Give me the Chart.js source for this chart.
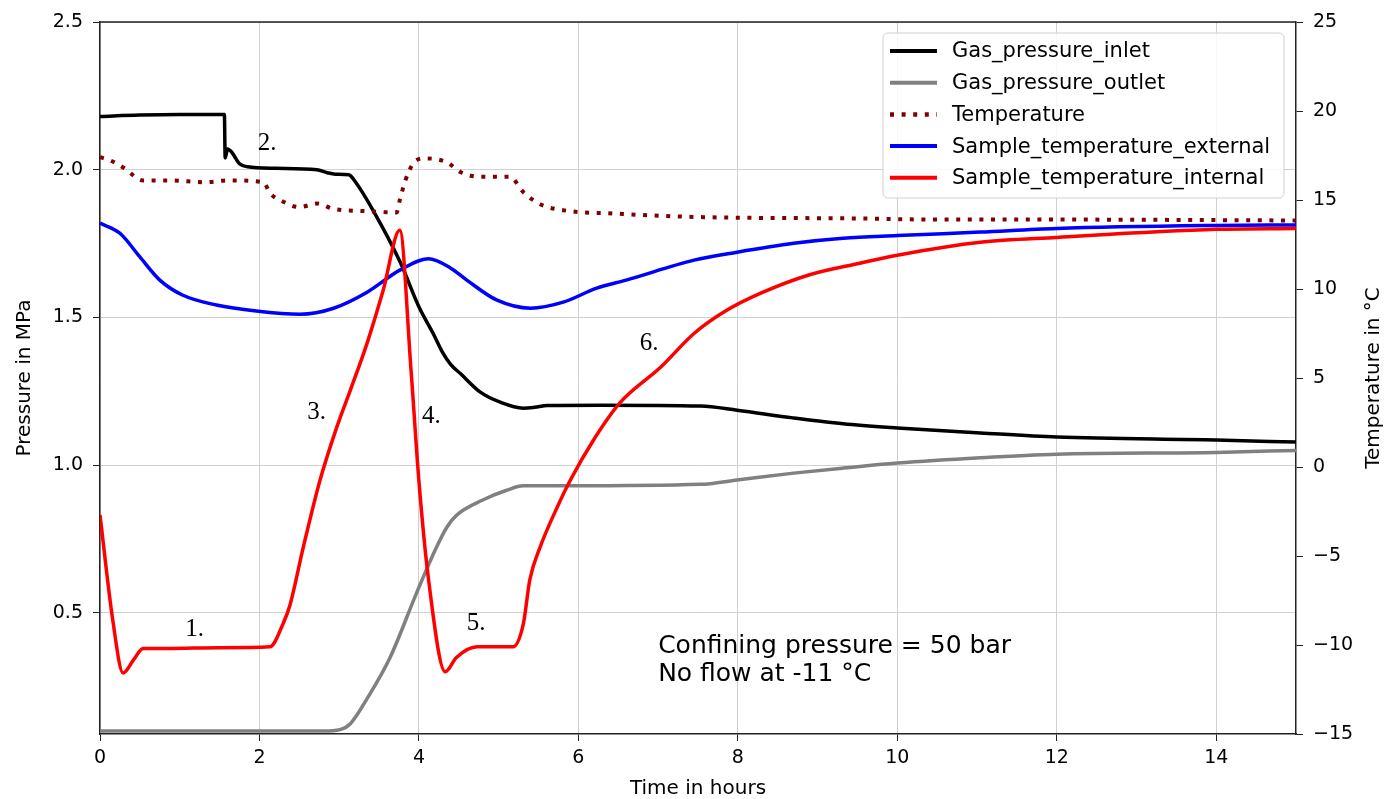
<!DOCTYPE html>
<html>
<head>
<meta charset="utf-8">
<title>Gas pressure and temperature</title>
<script src="https://cdn.jsdelivr.net/npm/chart.js@4.4.0/dist/chart.umd.min.js"></script>
<style>
  html, body { margin: 0; padding: 0; background: #fff; }
  #wrap { width: 1384px; height: 799px; position: relative; }
</style>
</head>
<body>
<div id="wrap"><canvas id="chart"></canvas></div>
<script>
// values (hours, MPa / °C)

const inletHours = [0, 0.5, 1.0, 1.56, 1.57, 1.6, 1.65, 1.75, 1.85, 2.2, 2.72, 2.85, 2.95, 3.12, 3.2, 3.43, 3.76, 4.01, 4.18, 4.3, 4.4, 4.52, 4.77, 5.02, 5.31, 5.45, 5.61, 6.27, 7.53, 7.99, 8.69, 9.32, 10.0, 11.04, 12.0, 14.0, 15.0];
const inletMPa = [2.18, 2.185, 2.187, 2.187, 2.04, 2.07, 2.06, 2.02, 2.01, 2.005, 2.0, 1.99, 1.985, 1.983, 1.96, 1.86, 1.69, 1.53, 1.445, 1.38, 1.34, 1.31, 1.247, 1.213, 1.193, 1.196, 1.202, 1.203, 1.2, 1.186, 1.16, 1.14, 1.126, 1.109, 1.095, 1.085, 1.078];

const outletHours = [0, 2.8, 3.01, 3.14, 3.35, 3.64, 3.97, 4.22, 4.35, 4.47, 4.8, 5.1, 5.31, 5.85, 7.53, 7.99, 8.7, 9.32, 10.0, 11.04, 12.0, 14.0, 15.0];
const outletMPa = [0.10, 0.10, 0.105, 0.125, 0.21, 0.35, 0.567, 0.722, 0.79, 0.83, 0.882, 0.915, 0.93, 0.93, 0.935, 0.95, 0.973, 0.99, 1.007, 1.025, 1.037, 1.043, 1.05];

const tempHours = [0, 0.12, 0.3, 0.54, 0.84, 1.34, 1.6, 2.05, 2.13, 2.3, 2.5, 2.72, 2.93, 3.35, 3.72, 3.76, 3.83, 3.93, 4.06, 4.35, 4.52, 4.77, 5.14, 5.31, 5.52, 5.85, 6.44, 7.28, 8.11, 9.37, 10.5, 12.0, 15.0];
const tempC = [17.4, 17.24, 16.8, 16.1, 16.1, 16.0, 16.1, 16.0, 15.4, 14.9, 14.6, 14.8, 14.5, 14.37, 14.3, 15.0, 16.1, 17.06, 17.34, 17.12, 16.57, 16.3, 16.3, 15.44, 14.76, 14.4, 14.24, 14.07, 14.0, 13.97, 13.9, 13.9, 13.85];

const externalHours = [0, 0.25, 0.5, 0.75, 1.04, 1.46, 1.96, 2.51, 2.93, 3.35, 3.76, 4.12, 4.39, 4.6, 4.98, 5.4, 5.81, 6.23, 6.6, 7.45, 7.99, 8.7, 9.32, 10.0, 11.04, 12.0, 14.0, 15.0];
const externalC = [13.7, 13.13, 11.8, 10.5, 9.65, 9.1, 8.76, 8.58, 8.92, 9.82, 11.06, 11.7, 11.2, 10.5, 9.37, 8.92, 9.26, 10.05, 10.5, 11.62, 12.07, 12.57, 12.85, 13.0, 13.2, 13.4, 13.57, 13.6];

const internalHours = [0, 0.16, 0.29, 0.42, 0.54, 0.84, 1.5, 2.13, 2.3, 2.38, 2.55, 2.76, 2.97, 3.14, 3.35, 3.55, 3.76, 3.9, 4.0, 4.12, 4.33, 4.47, 4.73, 5.18, 5.31, 5.39, 5.52, 5.73, 5.9, 6.19, 6.52, 7.03, 7.45, 7.86, 8.28, 8.9, 9.53, 10.0, 11.04, 12.0, 14.0, 15.0];
const internalC = [-2.7, -8.6, -11.57, -10.84, -10.2, -10.2, -10.15, -10.1, -8.76, -7.8, -4.5, -0.73, 2.24, 4.32, 6.96, 9.9, 13.3, 5.5, -0.8, -6.3, -11.5, -10.7, -10.1, -10.1, -8.8, -6.35, -4.5, -2.3, -0.73, 1.52, 3.6, 5.6, 7.5, 8.8, 9.75, 10.8, 11.45, 11.9, 12.63, 12.9, 13.35, 13.4];

const hourTicks = [0, 2, 4, 6, 8, 10, 12, 14];
const pressureTicks = [0.5, 1.0, 1.5, 2.0, 2.5];
const tempTicks = [-15, -10, -5, 0, 5, 10, 15, 20, 25];

// phase labels, placed in hours / MPa
const phaseLabels = ['1.', '2.', '3.', '4.', '5.', '6.'];
const phaseHours = [1.07, 1.98, 2.6, 4.04, 4.6, 6.77];
const phaseMPa = [0.422, 2.066, 1.156, 1.143, 0.442, 1.389];

const noteLines = ['Confining pressure = 50 bar', 'No flow at -11 °C'];
const noteHours = 7.0;
const noteMPa = [0.364, 0.269];

const SANS = 'DejaVu Sans';

function toPoints(xs, ys) {
    return xs.map((x, i) => ({ x: x, y: ys[i] }));
}

function minusSign(v) {
    return v < 0 ? '\u2212' + Math.abs(v) : String(v);
}

const extras = {
    id: 'extras',
    afterDraw(chart) {
        const ctx = chart.ctx;
        const area = chart.chartArea;
        const xs = chart.scales.x;
        const ys = chart.scales.y;
        ctx.save();

        // top spine
        ctx.strokeStyle = '#222';
        ctx.lineWidth = 1.5;
        ctx.beginPath();
        ctx.moveTo(area.left, area.top);
        ctx.lineTo(area.right, area.top);
        ctx.stroke();

        // right axis title, reading upwards like matplotlib
        ctx.fillStyle = '#000';
        ctx.font = '20px "' + SANS + '"';
        ctx.textAlign = 'center';
        ctx.textBaseline = 'middle';
        ctx.translate(chart.width - 10, (area.top + area.bottom) / 2);
        ctx.rotate(-Math.PI / 2);
        ctx.fillText('Temperature in °C', 0, 0);
        ctx.setTransform(1, 0, 0, 1, 0, 0);

        // phase numbers
        ctx.font = '25px "Liberation Serif"';
        ctx.textAlign = 'left';
        ctx.textBaseline = 'alphabetic';
        phaseLabels.forEach((t, i) => {
            ctx.fillText(t, xs.getPixelForValue(phaseHours[i]), ys.getPixelForValue(phaseMPa[i]));
        });

        // note
        ctx.font = '25px "' + SANS + '"';
        noteLines.forEach((t, i) => {
            ctx.fillText(t, xs.getPixelForValue(noteHours), ys.getPixelForValue(noteMPa[i]));
        });

        // legend box
        const boxR = area.right - 12, boxT = area.top + 11;
        const boxW = 401, boxH = 165;
        const boxL = boxR - boxW;
        ctx.fillStyle = 'rgba(255,255,255,0.85)';
        ctx.strokeStyle = '#d0d0d0';
        ctx.lineWidth = 1;
        ctx.beginPath();
        ctx.roundRect(boxL, boxT, boxW, boxH, 5);
        ctx.fill();
        ctx.stroke();

        ctx.font = '21px "' + SANS + '"';
        ctx.textBaseline = 'middle';
        chart.data.datasets.forEach((ds, i) => {
            const y = boxT + 18 + i * 31.7;
            ctx.strokeStyle = ds.borderColor;
            ctx.lineWidth = ds.borderWidth + 0.5;
            ctx.setLineDash(ds.borderDash || []);
            ctx.lineCap = 'butt';
            ctx.beginPath();
            ctx.moveTo(boxL + 7, y);
            ctx.lineTo(boxL + 54, y);
            ctx.stroke();
            ctx.setLineDash([]);
            ctx.fillStyle = '#000';
            ctx.fillText(ds.label, boxL + 69, y + 1);
        });
        ctx.restore();
    }
};

const tickFont = { family: SANS, size: 19 };
const gridStyle = { color: '#d0d0d0', lineWidth: 1, tickColor: '#222', tickLength: 7 };
const borderStyle = { color: '#222', width: 1.5 };

const datasets = [
    {
        label: 'Gas_pressure_inlet',
        data: toPoints(inletHours, inletMPa),
        borderColor: '#000000',
        borderWidth: 3.5,
        yAxisID: 'y',
        order: 4
    },
    {
        label: 'Gas_pressure_outlet',
        data: toPoints(outletHours, outletMPa),
        borderColor: '#808080',
        borderWidth: 3.5,
        yAxisID: 'y',
        order: 3
    },
    {
        label: 'Temperature',
        data: toPoints(tempHours, tempC),
        borderColor: '#800000',
        borderWidth: 4,
        borderDash: [4, 7.6],
        borderCapStyle: 'butt',
        yAxisID: 'y1',
        order: 2
    },
    {
        label: 'Sample_temperature_external',
        data: toPoints(externalHours, externalC),
        borderColor: '#0000ff',
        borderWidth: 3.5,
        yAxisID: 'y1',
        order: 1
    },
    {
        label: 'Sample_temperature_internal',
        data: toPoints(internalHours, internalC),
        borderColor: '#ff0000',
        borderWidth: 3.5,
        yAxisID: 'y1',
        order: 0
    }
];

new Chart(document.getElementById('chart').getContext('2d'), {
    type: 'line',
    data: { datasets: datasets },
    options: {
        responsive: true,
        maintainAspectRatio: false,
        animation: false,
        layout: { padding: { top: 22, left: 0, right: 0, bottom: 0 } },
        elements: {
            point: { radius: 0 },
            line: { cubicInterpolationMode: 'monotone', fill: false }
        },
        plugins: {
            legend: { display: false },
            tooltip: { enabled: false }
        },
        scales: {
            x: {
                type: 'linear',
                min: 0,
                max: 15,
                afterBuildTicks: s => { s.ticks = hourTicks.map(v => ({ value: v })); },
                afterFit: s => { s.height = 65; },
                ticks: { font: tickFont, color: '#000', padding: 6, maxRotation: 0 },
                grid: gridStyle,
                border: borderStyle,
                title: {
                    display: true,
                    text: 'Time in hours',
                    color: '#000',
                    font: { family: SANS, size: 20, lineHeight: 1 },
                    padding: { top: 0, bottom: 0 }
                }
            },
            y: {
                position: 'left',
                min: 0.09,
                max: 2.5,
                afterBuildTicks: s => { s.ticks = pressureTicks.map(v => ({ value: v })); },
                afterFit: s => { s.width = 100; },
                ticks: { font: tickFont, color: '#000', padding: 10, callback: v => v.toFixed(1) },
                grid: gridStyle,
                border: borderStyle,
                title: {
                    display: true,
                    text: 'Pressure in MPa',
                    color: '#000',
                    font: { family: SANS, size: 20, lineHeight: 1.2 },
                    padding: { top: 13, bottom: 0 }
                }
            },
            y1: {
                position: 'right',
                min: -15,
                max: 25,
                afterBuildTicks: s => { s.ticks = tempTicks.map(v => ({ value: v })); },
                afterFit: s => { s.width = 88; },
                ticks: { font: tickFont, color: '#000', padding: 10, callback: minusSign },
                grid: { drawOnChartArea: false, tickColor: '#222', tickLength: 7 },
                border: borderStyle
            }
        }
    },
    plugins: [extras]
});
</script>
</body>
</html>
